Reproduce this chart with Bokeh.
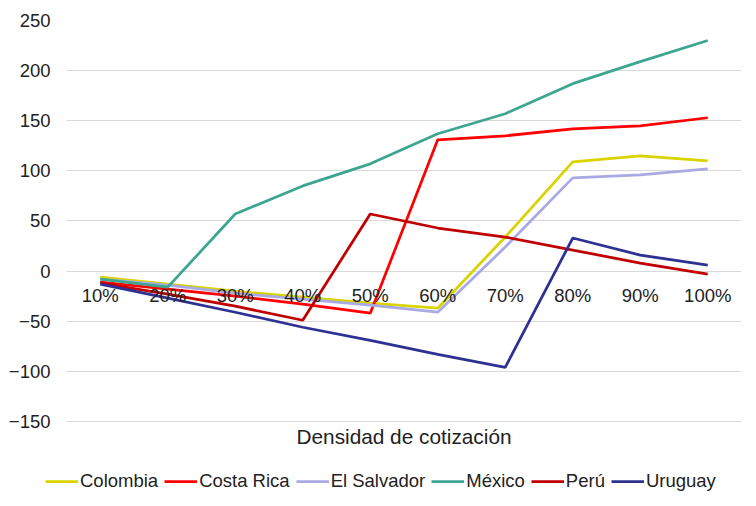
from bokeh.plotting import figure
from bokeh.models import (Range1d, FixedTicker, ColumnDataSource, Grid,
                          Legend, LegendItem, Label)
from bokeh.core.properties import value
from bokeh.embed import file_html
from bokeh.resources import INLINE

categories = ["10%", "20%", "30%", "40%", "50%", "60%", "70%", "80%", "90%", "100%"]
colombia = [-6, -13, -20, -26, -32, -37, 34, 109, 115, 110]
costa_rica = [-11, -18, -25, -33, -42, 131, 135, 142, 145, 153]
el_salvador = [-8, -14, -22, -28, -34, -41, 24, 93, 96, 102]
mexico = [-8, -16, 57, 85, 107, 137, 157, 187, 209, 230]
peru = [-12, -23, -35, -49, 57, 43, 34, 21, 8, -3]
uruguay = [-13, -27, -41, -56, -69, -83, -96, 33, 16, 6]
y_ticks = [-150, -100, -50, 0, 50, 100, 150, 200, 250]
x_title = "Densidad de cotización"

series = [
    ("Colombia", colombia, "#D9D400"),
    ("Costa Rica", costa_rica, "#FF0000"),
    ("El Salvador", el_salvador, "#A9A9E3"),
    ("México", mexico, "#3CA690"),
    ("Perú", peru, "#C00000"),
    ("Uruguay", uruguay, "#2E3192"),
]

FONT = "Liberation Sans"
TXT = "#222222"

# category slots: slot i spans [i, i+1], point drawn at its centre
n = len(categories)
xs = [i + 0.5 for i in range(n)]

has_cross = "cross_bounds" in Grid.properties()
x_start = -0.385 if has_cross else 0

p = figure(width=750, height=504, output_backend="svg", toolbar_location=None,
           x_range=Range1d(x_start, n),
           y_range=Range1d(-232.8, 250),
           min_border_left=40 if has_cross else 66, min_border_right=9,
           min_border_top=20, min_border_bottom=0)
p.outline_line_color = None
p.background_fill_color = "white"
p.border_fill_color = "white"
p.xaxis.visible = False

p.xgrid.grid_line_color = None
p.ygrid.grid_line_color = "#D9D9D9"
p.ygrid.grid_line_width = 1
p.ygrid.ticker = FixedTicker(ticks=y_ticks)
if has_cross:
    p.ygrid.cross_bounds = (0, n)

# y axis
p.yaxis.ticker = FixedTicker(ticks=y_ticks)
p.yaxis.axis_line_color = None
p.yaxis.major_tick_line_color = None
p.yaxis.minor_tick_line_color = None
p.yaxis.major_tick_out = 0
p.yaxis.major_tick_in = 0
p.yaxis.major_label_standoff = -10 if has_cross else 16
p.yaxis.major_label_text_font = FONT
p.yaxis.major_label_text_font_size = "18.5px"
p.yaxis.major_label_text_color = TXT

items = []
for name, vals, col in series:
    r = p.line(xs, vals, line_color=col, line_width=2.75)
    items.append(LegendItem(label=name, renderers=[r]))

# category labels along the zero line
lab_src = ColumnDataSource(dict(x=xs, y=[0] * n, t=categories))
p.text(x="x", y="y", text="t", source=lab_src, text_align="center",
       text_baseline="top", y_offset=14, text_font=value(FONT),
       text_font_size="18.5px", text_color=TXT)

# axis title, centred under the category slots
p.add_layout(Label(x=n / 2, y=-165, text=x_title,
                   text_align="center", text_baseline="middle",
                   text_font=FONT, text_font_size="20.8px", text_color=TXT))

legend = Legend(items=items, orientation="horizontal",
                location=(5, 12) if has_cross else (0, 12),
                label_text_font=FONT, label_text_font_size="18.5px",
                label_text_color=TXT, glyph_width=33, glyph_height=20,
                label_standoff=2, spacing=6, padding=0, margin=0,
                border_line_color=None, background_fill_alpha=0)
p.add_layout(legend, "center")

open("out.html", "w").write(file_html(p, INLINE))
